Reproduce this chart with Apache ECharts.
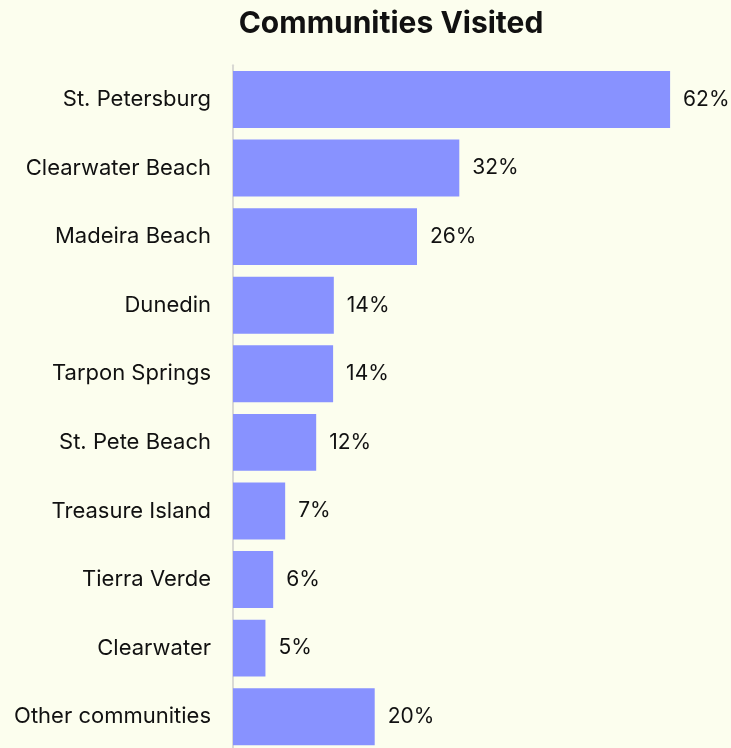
<!DOCTYPE html>
<html>
<head>
<meta charset="utf-8">
<script src="https://cdn.jsdelivr.net/npm/echarts@6/dist/echarts.min.js"></script>
<style>
  html, body { margin: 0; padding: 0; background: #fcfeee; overflow: hidden; }
  /* a little taller than the window: the last band runs past the bottom edge */
  #chart { width: 731px; height: 751px; }
</style>
</head>
<body>
<div id="chart"></div>
<script>
// communities, top to bottom
const communities = [
  'St. Petersburg', 'Clearwater Beach', 'Madeira Beach', 'Dunedin', 'Tarpon Springs',
  'St. Pete Beach', 'Treasure Island', 'Tierra Verde', 'Clearwater', 'Other communities'
];
// share of visitors, %
const visited = [62.0, 32.1, 26.1, 14.3, 14.2, 11.8, 7.4, 5.7, 4.6, 20.1];

const chart = echarts.init(document.getElementById('chart'));

chart.setOption({
  backgroundColor: '#fcfeee',
  animation: false,
  textStyle: { fontFamily: 'Inter' },
  title: {
    text: 'Communities Visited',
    left: 386,
    top: 4,
    textAlign: 'center',
    textStyle: { fontSize: 30, fontWeight: 'bold', color: '#111', fontFamily: 'Inter' }
  },
  grid: { left: 233, right: 4.5, top: 65.2, bottom: 0 },
  xAxis: {
    type: 'value',
    min: 0,
    max: 70,
    show: false
  },
  yAxis: {
    type: 'category',
    data: communities,
    inverse: true,
    axisLine: { show: true, lineStyle: { color: '#d9d9d4', width: 2 } },
    axisTick: { show: false },
    axisLabel: { color: '#111', fontSize: 22, margin: 22 }
  },
  series: [{
    type: 'bar',
    data: visited,
    barCategoryGap: '17%',
    itemStyle: { color: '#8892ff' },
    label: {
      show: true,
      position: 'right',
      distance: 13,
      color: '#111',
      fontSize: 21,
      formatter: p => Math.round(p.value) + '%'
    }
  }]
});
</script>
</body>
</html>
